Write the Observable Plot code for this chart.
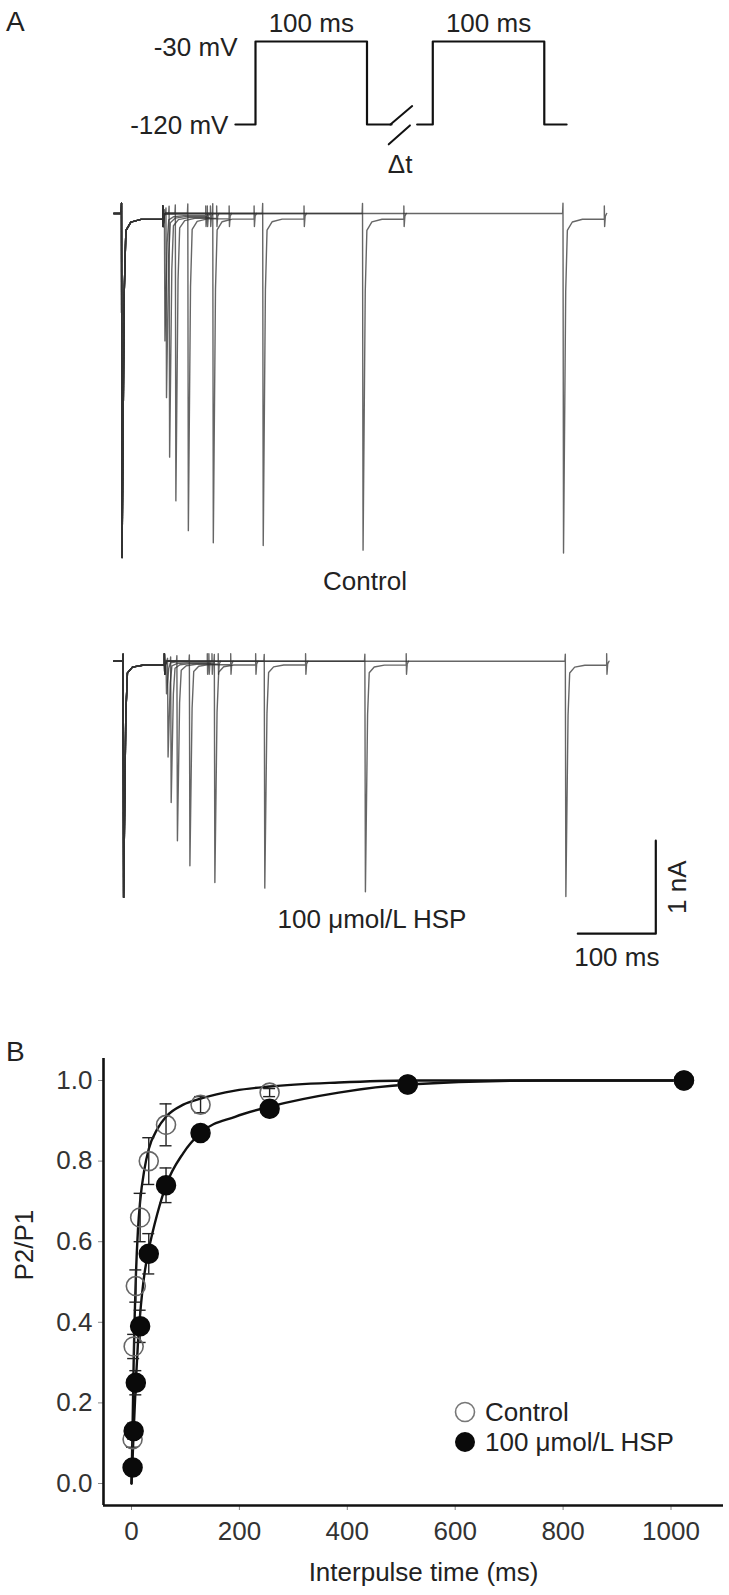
<!DOCTYPE html>
<html><head><meta charset="utf-8">
<script src="https://cdn.jsdelivr.net/npm/d3@7"></script>
<script src="https://cdn.jsdelivr.net/npm/@observablehq/plot@0.6"></script>
<style>
body{margin:0;background:#fff;}
#fig{position:relative;width:729px;height:1595px;overflow:hidden;font-family:"Liberation Sans",Arial,sans-serif;color:#222;}
#fig > div{position:absolute;}
.lbl{font-size:28px;line-height:1;}
.leg{font-size:26px;display:flex;align-items:center;height:30px;}
.leg svg{margin-right:9px;}
</style></head><body><div id="fig"></div>
<script>
// ---------------- DATA ----------------
// Voltage protocol (display ms, mV)
const protoSegA_T = [-18, 0, 0, 100, 100, 122];
const protoSegB_T = [145, 159, 159, 259, 259, 279];
const protoV      = [-120, -120, -30, -30, -120, -120];
const breakT = [[121, 140.5], [119.5, 138.5]];
const breakV = [[-120, -100], [-141.5, -121]];
const pulseLabel = "100 ms";
const holdLabel = "-120 mV", testLabel = "-30 mV", gapLabel = "Δt";

// Current traces (display ms, nA)
const ctrlP1Onset = 0,   ctrlP1Peak = 3.70;
const ctrlP2Onset = [55, 57, 61, 69, 85, 117, 181, 309, 566];
const ctrlP2Peak  = [1.37, 1.98, 2.62, 3.09, 3.41, 3.54, 3.57, 3.62, 3.65];
const hspP1Onset = 2,    hspP1Peak = 2.54;
const hspP2Onset  = [57, 59, 63, 71, 87, 119, 183, 312, 569];
const hspP2Peak   = [0.35, 1.03, 1.52, 1.93, 2.20, 2.38, 2.44, 2.48, 2.53];
// spike waveform: offsets (ms) and fraction of peak (inward)
const tplMs   = [-0.5, 0, 0.7, 3.5, 5.6, 12, 25];
const tplFrac = [0, -0.03, 1, 0.23, 0.05, 0.025, 0.017];
const pulseMs = 53;
const blipMs  = [0, 0.4, 1.3, 3];
const blipNA  = [0.08, -0.14, -0.03, 0];
const sweepStart = -10;
const scaleMs = 100, scaleNA = 1, scaleT0 = 585, scaleI0 = -2.93;
const condCtrl = "Control", condHsp = "100 μmol/L HSP";

// Recovery (panel B)
const intervals = [2, 4, 8, 16, 32, 64, 128, 256, 512, 1024];
const ctrlMean = [0.11, 0.34, 0.49, 0.66, 0.80, 0.89, 0.94, 0.97, 0.99, 1.00];
const ctrlErr  = [0.02, 0.03, 0.04, 0.06, 0.058, 0.052, 0.02, 0.01, 0.005, 0];
const hspMean  = [0.04, 0.13, 0.25, 0.39, 0.57, 0.74, 0.87, 0.93, 0.99, 1.00];
const hspErr   = [0.01, 0.02, 0.03, 0.04, 0.05, 0.043, 0.015, 0.01, 0.005, 0];
const fitT    = [0, 2, 4, 6, 8, 12, 16, 24, 32, 48, 64, 96, 128, 192, 256, 384, 512, 768, 1024];
const ctrlFit = [0.0, 0.14, 0.30, 0.42, 0.51, 0.63, 0.70, 0.78, 0.83, 0.88, 0.91, 0.94, 0.955, 0.975, 0.985, 0.995, 1.0, 1.0, 1.0];
const hspFit  = [0.0, 0.06, 0.13, 0.19, 0.25, 0.35, 0.42, 0.52, 0.58, 0.67, 0.74, 0.82, 0.87, 0.91, 0.935, 0.97, 0.99, 1.0, 1.0];
const xTicks = [0, 200, 400, 600, 800, 1000];
const yTicks = [0, 0.2, 0.4, 0.6, 0.8, 1.0];
const xTitle = "Interpulse time (ms)", yTitle = "P2/P1";

// ---------------- LAYOUT ----------------
const W = 729;
const fig = document.getElementById("fig");
function place(node, left, top) {
  const d = document.createElement("div");
  d.style.left = left + "px"; d.style.top = top + "px";
  d.appendChild(node); fig.appendChild(d); return d;
}
const FONT = "Liberation Sans, Arial, sans-serif";

// ---------- Protocol ----------
{
  const H = 200, x0 = 255, pxPerMs = 1.115, yTop = 41, pxPerMV = 0.9222;
  const proto = [
    ...protoSegA_T.map((t, k) => ({t, v: protoV[k], s: "a"})),
    ...protoSegB_T.map((t, k) => ({t, v: protoV[k], s: "b"}))
  ];
  const brk = breakT.flatMap((ts, k) => ts.map((t, j) => ({t, v: breakV[k][j], s: k})));
  const p = Plot.plot({
    width: W, height: H, margin: 0,
    style: {fontFamily: FONT, background: "transparent"},
    x: {domain: [-x0 / pxPerMs, (W - x0) / pxPerMs], range: [0, W], axis: null},
    y: {domain: [-30 + yTop / pxPerMV, -30 - (H - yTop) / pxPerMV], range: [0, H], axis: null},
    marks: [
      Plot.line(proto, {x: "t", y: "v", z: "s", stroke: "#111", strokeWidth: 2.2}),
      Plot.line(brk, {x: "t", y: "v", z: "s", stroke: "#111", strokeWidth: 2}),
      Plot.text([testLabel], {x: protoSegA_T[1], y: protoV[2], textAnchor: "end", dx: -18, dy: 6, fontSize: 26, fill: "#222"}),
      Plot.text([holdLabel], {x: protoSegA_T[0], y: protoV[0], textAnchor: "end", dx: -7, dy: 1, fontSize: 26, fill: "#222"}),
      Plot.text([pulseLabel, pulseLabel], {x: [(protoSegA_T[2] + protoSegA_T[3]) / 2, (protoSegB_T[2] + protoSegB_T[3]) / 2], y: [protoV[2], protoV[2]], dy: -18, fontSize: 26, fill: "#222"}),
      Plot.text([gapLabel], {x: (breakT[0][0] + breakT[0][1]) / 2 - 1, y: protoV[0], dy: 40, fontSize: 26, fill: "#222"})
    ]
  });
  place(p, 0, 0);
}

// ---------- Traces ----------
function buildSweeps(p1On, p1Pk, p2On, p2Pk) {
  const all = [];
  p2On.forEach((on2, s) => {
    const pts = [{t: sweepStart, i: 0}];
    const pulse = (on, pk, limit) => {
      tplMs.forEach((d, k) => pts.push({t: on + d, i: -pk * tplFrac[k]}));
      pts.push({t: on + pulseMs, i: -pk * tplFrac[tplFrac.length - 1]});
      blipMs.forEach((d, k) => { if (on + pulseMs + d < limit) pts.push({t: on + pulseMs + d, i: blipNA[k]}); });
    };
    pulse(p1On, p1Pk, on2 + tplMs[0]);
    pulse(on2, p2Pk[s], Infinity);
    pts.forEach(p => all.push({...p, sweep: s}));
  });
  return all;
}
const tracePxPerMs = 0.78, traceX0 = 121, pxPerNA = 93;
function tracePlot(data, H, base, extra) {
  return Plot.plot({
    width: W, height: H, margin: 0,
    style: {fontFamily: FONT, background: "transparent"},
    x: {domain: [-traceX0 / tracePxPerMs, (W - traceX0) / tracePxPerMs], range: [0, W], axis: null},
    y: {domain: [base / pxPerNA, -(H - base) / pxPerNA], range: [0, H], axis: null},
    marks: [
      Plot.line(data, {x: "t", y: "i", z: "sweep", stroke: "#333", strokeOpacity: 0.75, strokeWidth: 1.4}),
      ...extra
    ]
  });
}
{
  const H = 420;
  const p = tracePlot(buildSweeps(ctrlP1Onset, ctrlP1Peak, ctrlP2Onset, ctrlP2Peak), H, 23, [
    Plot.text([condCtrl], {frameAnchor: "bottom", dy: -21, fontSize: 26, fill: "#222"})
  ]);
  place(p, 0, 190);
}
{
  const H = 360;
  const bar = [{t: scaleT0, i: scaleI0}, {t: scaleT0 + scaleMs, i: scaleI0}, {t: scaleT0 + scaleMs, i: scaleI0 + scaleNA}];
  const p = tracePlot(buildSweeps(hspP1Onset, hspP1Peak, hspP2Onset, hspP2Peak), H, 40.7, [
    Plot.line(bar, {x: "t", y: "i", stroke: "#111", strokeWidth: 2.2}),
    Plot.text([`${scaleMs} ms`], {x: scaleT0 + scaleMs / 2, y: scaleI0, dy: 24, fontSize: 26, fill: "#222"}),
    Plot.text([`${scaleNA} nA`], {x: scaleT0 + scaleMs, y: scaleI0 + scaleNA / 2, dx: 22, rotate: -90, fontSize: 26, fill: "#222"}),
    Plot.text([condHsp], {frameAnchor: "bottom", dx: 7, dy: -53, fontSize: 26, fill: "#222"})
  ]);
  place(p, 0, 620);
}

// ---------- Panel B ----------
{
  const H = 595, mL = 103, mT = 55, mB = 90;
  const x0 = 131, pxPerMs = 0.5395, y0 = 483, pxPerUnit = 403;
  const ctrl = intervals.map((t, k) => ({t, v: ctrlMean[k], e: ctrlErr[k]}));
  const hsp  = intervals.map((t, k) => ({t, v: hspMean[k], e: hspErr[k]}));
  const fits = [
    ...fitT.map((t, k) => ({t, v: ctrlFit[k], c: condCtrl})),
    ...fitT.map((t, k) => ({t, v: hspFit[k], c: condHsp}))
  ];
  const axT = (mL - x0) / pxPerMs, axR = (W - 6 - x0) / pxPerMs;
  const axB = -(H - mB - y0) / pxPerUnit, axTop = (y0 - 58) / pxPerUnit;
  const cap = 6 / pxPerMs;
  const errs = [...ctrl, ...hsp].filter(d => d.e > 0);
  const p = Plot.plot({
    width: W, height: H, marginLeft: mL, marginTop: mT, marginBottom: mB, marginRight: 0,
    style: {fontFamily: FONT, background: "transparent", color: "#333"},
    x: {domain: [0, 1000], range: [x0, x0 + 1000 * pxPerMs]},
    y: {domain: [0, 1], range: [y0, y0 - pxPerUnit]},
    marks: [
      Plot.axisY({ticks: yTicks, tickFormat: d3.format(".1f"), tickSize: 5, tickPadding: 6, fontSize: 26, label: null, stroke: "#888"}),
      Plot.axisX({ticks: xTicks, tickFormat: d => String(d), tickSize: 5, tickPadding: 11, fontSize: 26, label: null, stroke: "#888"}),
      Plot.ruleX([axT], {y1: axB, y2: axTop, stroke: "#111", strokeWidth: 2.6}),
      Plot.ruleY([axB], {x1: axT, x2: axR, stroke: "#111", strokeWidth: 2.6}),
      Plot.line(fits, {x: "t", y: "v", z: "c", curve: "monotone-x", stroke: "#111", strokeWidth: 2.4}),
      Plot.ruleX(errs, {x: "t", y1: d => d.v - d.e, y2: d => d.v + d.e, stroke: "#222", strokeWidth: 1.4}),
      Plot.ruleY(errs, {y: d => d.v + d.e, x1: d => d.t - cap, x2: d => d.t + cap, stroke: "#222", strokeWidth: 1.4}),
      Plot.ruleY(errs, {y: d => d.v - d.e, x1: d => d.t - cap, x2: d => d.t + cap, stroke: "#222", strokeWidth: 1.4}),
      Plot.dot(ctrl, {x: "t", y: "v", r: 9.5, stroke: "#666", strokeWidth: 1.6, fill: "none"}),
      Plot.dot(hsp, {x: "t", y: "v", r: 9.5, fill: "#0a0a0a", stroke: "#0a0a0a"}),
      Plot.text([yTitle], {frameAnchor: "left", dx: -79, rotate: -90, fontSize: 26, fill: "#222"}),
      Plot.text([xTitle], {frameAnchor: "bottom", dx: 7, dy: 75, fontSize: 26, fill: "#222"})
    ]
  });
  place(p, 0, 1000);
  // legend
  const leg = document.createElement("div");
  leg.innerHTML =
    `<div class="leg"><svg width="22" height="22"><circle cx="11" cy="11" r="9.5" fill="none" stroke="#777" stroke-width="1.6"/></svg><span>${condCtrl}</span></div>` +
    `<div class="leg"><svg width="22" height="22"><circle cx="11" cy="11" r="10" fill="#0a0a0a"/></svg><span>${condHsp}</span></div>`;
  place(leg, 454, 1397);
}

// panel letters
{
  const a = document.createElement("div"); a.className = "lbl"; a.textContent = "A";
  place(a, 6, 8);
  const b = document.createElement("div"); b.className = "lbl"; b.textContent = "B";
  place(b, 6, 1038);
}
</script></body></html>
